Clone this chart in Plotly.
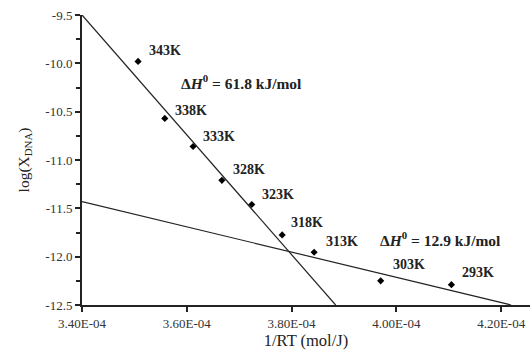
import plotly.graph_objects as go

# Data
temps = ["343K", "338K", "333K", "328K", "323K", "318K", "313K", "303K", "293K"]
inv_rt = [3.507e-4, 3.558e-4, 3.612e-4, 3.667e-4, 3.724e-4, 3.782e-4, 3.843e-4, 3.970e-4, 4.105e-4]
log_x = [-9.98, -10.57, -10.86, -11.21, -11.46, -11.775, -11.954, -12.25, -12.29]

fit_high_x = [3.40e-4, 3.884e-4]
fit_high_y = [-9.5, -12.5]
fit_low_x = [3.40e-4, 4.219e-4]
fit_low_y = [-11.43, -12.5]

x_tickvals = [3.40e-4, 3.60e-4, 3.80e-4, 4.00e-4, 4.20e-4]
x_ticktext = ["3.40E-04", "3.60E-04", "3.80E-04", "4.00E-04", "4.20E-04"]
y_tickvals = [-9.5, -10.0, -10.5, -11.0, -11.5, -12.0, -12.5]
y_ticktext = ["-9.5", "-10.0", "-10.5", "-11.0", "-11.5", "-12.0", "-12.5"]

dh_labels = ["<b>Δ<i>H</i><sup>0</sup> = 61.8 kJ/mol</b>", "<b>Δ<i>H</i><sup>0</sup> = 12.9 kJ/mol</b>"]
dh_x = [3.586e-4, 3.964e-4]
dh_y = [-10.19, -11.82]

# label offsets in pixels (style/position)
label_dx = [9, 8, 8, 9, 8, 7, 10, 10, 9]
label_dy = [11, 8, 10, 11, 10, 12, 11, 16, 12]

FONT = "Liberation Serif, Times New Roman, serif"

fig = go.Figure()
fig.add_trace(go.Scatter(x=fit_high_x, y=fit_high_y, mode="lines",
                         line=dict(color="#222", width=1.2), showlegend=False))
fig.add_trace(go.Scatter(x=fit_low_x, y=fit_low_y, mode="lines",
                         line=dict(color="#222", width=1.2), showlegend=False))
fig.add_trace(go.Scatter(x=inv_rt, y=log_x, mode="markers",
                         marker=dict(symbol="diamond", size=5.5, color="black"),
                         showlegend=False, cliponaxis=False))

annotations = []
for t, xv, yv, dx, dy in zip(temps, inv_rt, log_x, label_dx, label_dy):
    annotations.append(dict(x=xv, y=yv, xref="x", yref="y", text="<b>" + t + "</b>",
                            showarrow=False, xanchor="left", yanchor="middle",
                            xshift=dx, yshift=dy,
                            font=dict(family=FONT, size=14, color="#222")))
for t, xv, yv in zip(dh_labels, dh_x, dh_y):
    annotations.append(dict(x=xv, y=yv, xref="x", yref="y", text=t, showarrow=False,
                            xanchor="left", yanchor="middle",
                            font=dict(family=FONT, size=15.5, color="#222")))

fig.update_layout(
    width=532, height=356,
    margin=dict(l=82, r=2, t=15, b=51),
    plot_bgcolor="white", paper_bgcolor="white",
    font=dict(family=FONT, size=13, color="#222"),
    annotations=annotations,
    xaxis=dict(range=[3.40e-4, 4.255e-4], tickvals=x_tickvals, ticktext=x_ticktext,
               showgrid=False, zeroline=False, showline=True, linecolor="#222", linewidth=2,
               ticks="outside", ticklen=5, tickwidth=2, tickcolor="#222",
               tickfont=dict(family=FONT, size=13, color="#333"),
               title=dict(text="1/RT (mol/J)", font=dict(family=FONT, size=16.5, color="#222"),
                          standoff=5)),
    yaxis=dict(range=[-12.5, -9.5], tickvals=y_tickvals, ticktext=y_ticktext,
               showgrid=False, zeroline=False, showline=True, linecolor="#222", linewidth=2,
               ticks="outside", ticklen=5, tickwidth=2, tickcolor="#222",
               tickfont=dict(family=FONT, size=13, color="#333"),
               minor=dict(dtick=0.25, tick0=-9.5, ticks="outside", ticklen=4, tickwidth=2,
                          tickcolor="#222", showgrid=False),
               title=dict(text="log(X<sub>DNA</sub>)", font=dict(family=FONT, size=15.5, color="#222"),
                          standoff=12)),
)

fig.write_html("out.html", config={"displayModeBar": False},
               post_script="document.body.style.margin='0';")
